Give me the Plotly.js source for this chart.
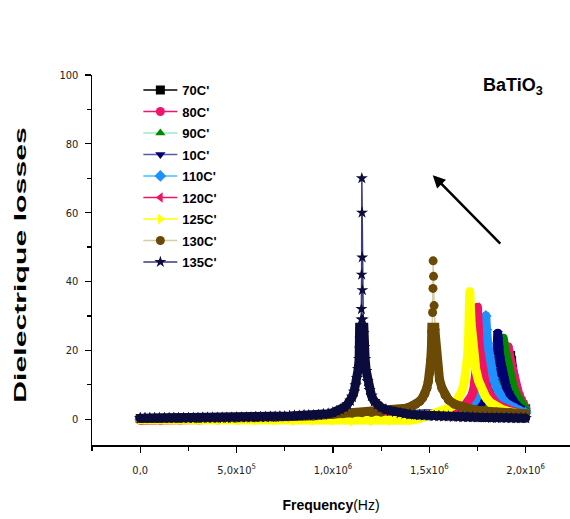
<!DOCTYPE html>
<html>
<head>
<meta charset="utf-8">
<script src="https://cdn.plot.ly/plotly-3.0.1.min.js"></script>
<style>
html,body{margin:0;padding:0;background:#fff;}
#chart{width:570px;height:519px;}
.scatterlayer .js-line{stroke-linejoin:round;stroke-linecap:round;}
</style>
</head>
<body>
<div id="chart"></div>
<script>
// Frequencies in MHz (tick labels show Hz)
const seriesNames = ["70C'", "80C'", "90C'", "10C'", "110C'", "120C'", "125C'", "130C'", "135C'"];

const freq70 = [0,0.1,0.2,0.3,0.4,0.5,0.6,0.7,0.8,0.9,1.0,1.1,1.2,1.3,1.4,1.5,1.6,1.65,1.7,1.75,1.8,1.84,1.87,1.89,1.9,1.91,1.917,1.922,1.927,1.932,1.938,1.945,1.955,1.965,1.975,1.985,2.0];
const loss70 = [0.2,0.2,0.3,0.3,0.3,0.4,0.4,0.5,0.5,0.6,0.7,0.8,0.9,1.0,1.2,1.4,1.8,2.1,2.6,3.2,4.2,5.4,7.0,8.8,10.5,13,16,18.5,17,14.5,12,10,8,6.5,5.2,4.2,3.0];

const freq80 = [0,0.1,0.2,0.3,0.4,0.5,0.6,0.7,0.8,0.9,1.0,1.1,1.2,1.3,1.4,1.5,1.6,1.65,1.7,1.75,1.8,1.83,1.855,1.872,1.884,1.893,1.899,1.903,1.906,1.909,1.913,1.918,1.925,1.933,1.942,1.952,1.963,1.975,1.988,2.0];
const loss80 = [0.1,0.1,0.1,0.2,0.2,0.2,0.3,0.3,0.4,0.4,0.5,0.6,0.7,0.8,1.0,1.2,1.5,1.8,2.2,2.8,3.6,4.5,5.6,7,8.8,11,13.5,16.5,19,21,19.8,18,16,13.5,11.2,9.2,7.4,5.8,4.4,3.2];

const freq90 = [0,0.1,0.2,0.3,0.4,0.5,0.6,0.7,0.8,0.9,1.0,1.1,1.2,1.3,1.4,1.5,1.6,1.65,1.7,1.74,1.78,1.81,1.83,1.848,1.86,1.868,1.874,1.878,1.881,1.884,1.888,1.894,1.902,1.912,1.923,1.936,1.95,1.965,1.982,2.0];
const loss90 = [0.1,0.2,0.2,0.3,0.6,0.8,0.5,0.3,0.4,0.5,0.5,0.6,0.7,0.9,1.0,1.3,1.6,2.0,2.5,3.1,4.0,5.0,6.2,7.8,9.8,12.2,15,18,21,23.5,22,20,17.5,14.5,11.8,9.4,7.3,5.5,4.0,2.8];

const freq10 = [0,0.1,0.2,0.3,0.4,0.5,0.6,0.7,0.8,0.9,1.0,1.1,1.2,1.3,1.4,1.5,1.6,1.65,1.7,1.73,1.76,1.79,1.81,1.826,1.837,1.845,1.85,1.853,1.855,1.858,1.862,1.868,1.876,1.886,1.898,1.912,1.928,1.946,1.966,1.985,2.0];
const loss10 = [0,0.1,0.1,0.2,0.2,0.3,0.3,0.3,0.4,0.4,0.5,0.6,0.7,0.9,1.1,1.4,1.8,2.2,2.8,3.4,4.3,5.5,6.8,8.5,10.5,13,16,20,25,23,20.5,17.5,14.5,11.8,9.5,7.5,5.8,4.4,3.3,2.5,2.0];

const freq110 = [0,0.1,0.2,0.3,0.4,0.5,0.6,0.7,0.8,0.9,1.0,1.1,1.2,1.3,1.4,1.5,1.55,1.6,1.64,1.68,1.71,1.735,1.752,1.765,1.774,1.781,1.786,1.79,1.793,1.797,1.803,1.81,1.82,1.832,1.846,1.862,1.88,1.9,1.925,1.95,1.975,2.0];
const loss110 = [0,0,0.1,0.1,0.1,0.2,0.2,0.3,0.3,0.4,0.4,0.5,0.6,0.8,1.0,1.2,1.5,1.9,2.4,3.1,4.0,5.2,6.6,8.4,10.6,13.4,17,22,30,26,22,18.5,15,12,9.5,7.5,5.8,4.6,3.6,2.9,2.3,1.9];

const freq120 = [0,0.1,0.2,0.3,0.4,0.5,0.6,0.7,0.8,0.9,1.0,1.1,1.2,1.3,1.4,1.5,1.55,1.6,1.63,1.66,1.685,1.705,1.72,1.731,1.739,1.744,1.748,1.75,1.753,1.757,1.763,1.77,1.78,1.792,1.806,1.822,1.84,1.86,1.885,1.91,1.94,1.97,2.0];
const loss120 = [-0.3,-0.3,-0.2,-0.2,-0.1,-0.1,0,0,0.1,0.1,0.2,0.3,0.4,0.6,0.8,1.1,1.4,1.9,2.4,3.1,4.0,5.2,6.8,8.8,11.5,15,20,32.5,28,23.5,19.5,16,12.8,10.2,8,6.3,5,4,3.2,2.6,2.1,1.7,1.4];

const freq125 = [0,0.1,0.2,0.3,0.4,0.5,0.6,0.7,0.8,0.9,1.0,1.1,1.2,1.3,1.4,1.45,1.5,1.55,1.58,1.61,1.635,1.655,1.67,1.682,1.692,1.699,1.704,1.708,1.71,1.713,1.717,1.723,1.731,1.741,1.755,1.772,1.792,1.815,1.845,1.88,1.92,1.96,2.0];
const loss125 = [-0.2,-0.2,-0.2,-0.2,-0.2,-0.3,-0.4,-0.4,-0.4,-0.5,-0.5,-0.6,-0.6,-0.5,-0.3,0.2,1.0,1.8,2.5,3.4,4.6,6.2,8.2,10.8,14.2,18.5,24,30,37,33,28,23,18.5,14.5,11.2,8.6,6.5,4.9,3.7,2.8,2.1,1.6,1.2];

const freq130 = [0,0.1,0.2,0.3,0.4,0.5,0.6,0.7,0.8,0.9,1.0,1.05,1.1,1.15,1.2,1.25,1.3,1.35,1.38,1.41,1.43,1.45,1.465,1.477,1.487,1.495,1.502,1.507,1.511,1.514,1.517,1.519,1.52,1.522,1.525,1.529,1.535,1.543,1.553,1.566,1.582,1.6,1.63,1.67,1.72,1.78,1.85,1.92,2.0];
const loss130 = [0.2,0.2,0.3,0.3,0.4,0.4,0.5,0.6,0.8,1.0,1.4,1.6,1.8,1.9,2.0,2.1,2.4,2.8,3.2,3.8,4.4,5.2,6.2,7.4,9,11,13.5,17,21,25.5,31,38,46,41.5,33,26,20,15,11.5,9,7,5.6,4.4,3.5,2.9,2.4,2.0,1.8,1.6];

const freq135 = [0,0.025,0.05,0.075,0.1,0.125,0.15,0.175,0.2,0.225,0.25,0.275,0.3,0.325,0.35,0.375,0.4,0.425,0.45,0.475,0.5,0.525,0.55,0.575,0.6,0.625,0.65,0.675,0.7,0.725,0.75,0.775,0.8,0.825,0.85,0.875,0.9,0.925,0.95,0.975,1.0,
  1.02,1.04,1.06,1.075,1.09,1.1,1.11,1.118,1.125,1.131,1.136,1.14,1.143,1.145,1.147,1.148,1.149,1.15,1.151,1.152,1.153,1.155,1.158,1.162,1.167,1.173,1.18,1.19,1.2,1.215,1.23,1.25,
  1.275,1.3,1.325,1.35,1.375,1.4,1.425,1.45,1.475,1.5,1.525,1.55,1.575,1.6,1.625,1.65,1.675,1.7,1.725,1.75,1.775,1.8,1.825,1.85,1.875,1.9,1.925,1.95,1.975,2.0];
const loss135 = [0.3,0.3,0.3,0.3,0.3,0.3,0.3,0.3,0.3,0.3,0.3,0.3,0.3,0.4,0.4,0.4,0.4,0.4,0.4,0.4,0.5,0.5,0.5,0.5,0.6,0.6,0.6,0.7,0.7,0.8,0.8,0.9,1.0,1.0,1.1,1.1,1.1,1.2,1.4,1.6,1.9,
  2.3,2.8,3.5,4.3,5.4,6.5,8,9.8,12,14.5,17.5,20.5,23.5,26,29,32,42,70,60,47,37.5,29,25,21,17.5,14,11,8.5,6.8,5.2,4.2,3.4,
  2.8,2.4,2.1,1.8,1.6,1.4,1.3,1.2,1.1,1.0,0.9,0.9,0.8,0.8,0.7,0.7,0.6,0.6,0.6,0.5,0.5,0.5,0.4,0.4,0.4,0.4,0.3,0.3,0.3,0.3];

const xTickVals = [0, 0.5, 1.0, 1.5, 2.0];
const xTickText = ["0,0", "5,0x10<sup>5</sup>", "1,0x10<sup>6</sup>", "1,5x10<sup>6</sup>", "2,0x10<sup>6</sup>"];
const yTickVals = [0, 20, 40, 60, 80, 100];

const freqs = [freq70, freq80, freq90, freq10, freq110, freq120, freq125, freq130, freq135];
const losses = [loss70, loss80, loss90, loss10, loss110, loss120, loss125, loss130, loss135];
const markerColors = ['#000000', '#f0146e', '#008a00', '#000070', '#1e90ff', '#f01464', '#ffff00', '#6b4a05', '#0c0c3c'];
const lineColors = ['#000000', '#f0146e', '#9ce8c0', '#5a5aaa', '#40c0ff', '#f01464', '#ffff00', '#d8cca8', '#3a3a80'];
const symbols = ['square', 'circle', 'triangle-up', 'triangle-down', 'diamond', 'triangle-left', 'triangle-right', 'circle', 'star'];
// series whose upper spike is sparse (thin line) while the lower part is dense
const sparseTop = [false, false, false, false, false, false, false, true, true];

const RIB = 9;   // dense-marker ribbon width
const traces = [];
seriesNames.forEach((name, i) => {
  if (sparseTop[i]) return;
  traces.push({
    type: 'scatter', mode: 'lines+markers', showlegend: false,
    x: freqs[i], y: losses[i],
    line: {color: markerColors[i], width: RIB},
    marker: {color: markerColors[i], symbol: symbols[i], size: 9}
  });
});
seriesNames.forEach((name, i) => {
  if (!sparseTop[i]) return;
  traces.push({
    type: 'scatter', mode: 'lines+markers', showlegend: false,
    x: freqs[i], y: losses[i],
    line: {color: lineColors[i], width: 1.5},
    marker: {color: markerColors[i], symbol: symbols[i], size: 9}
  });
});
seriesNames.forEach((name, i) => {
  if (!sparseTop[i]) return;
  traces.push({
    type: 'scatter', mode: 'lines+markers', showlegend: false, yaxis: 'y2',
    x: freqs[i], y: losses[i],
    line: {color: markerColors[i], width: RIB},
    marker: {color: markerColors[i], symbol: symbols[i], size: 9}
  });
});
seriesNames.forEach((name, i) => {
  traces.push({
    type: 'scatter', mode: 'lines+markers', name: name, legendgroup: 'g' + i,
    x: [null], y: [null],
    line: {color: lineColors[i], width: 1.5},
    marker: {color: markerColors[i], symbol: symbols[i], size: 9}
  });
});

const yMin = -7.5, yMax = 100, denseTop = 28;
const tickFont = {family: 'Liberation Sans Narrow, DejaVu Sans Condensed, Liberation Sans, sans-serif', size: 11, color: '#222'};

const layout = {
  width: 570, height: 519,
  margin: {l: 92, r: 0, t: 75, b: 74},
  paper_bgcolor: '#ffffff', plot_bgcolor: 'rgba(0,0,0,0)',
  showlegend: true,
  legend: {
    x: 0.097, y: 1.0, xanchor: 'left', yanchor: 'top',
    bgcolor: 'rgba(0,0,0,0)', traceorder: 'grouped', tracegroupgap: 1.6,
    itemwidth: 34,
    font: {family: 'Liberation Sans Narrow, Liberation Sans, sans-serif', size: 13, color: '#000', weight: 'bold'}
  },
  xaxis: {
    range: [-0.25, 2.23],
    showgrid: false, zeroline: false,
    showline: true, linecolor: '#000', linewidth: 1.5,
    ticks: 'outside', ticklen: 6, tickwidth: 1.2, tickcolor: '#000',
    tickmode: 'array', tickvals: xTickVals, ticktext: xTickText,
    ticklabelstandoff: 8,
    minor: {dtick: 0.25, tick0: 0, ticks: 'outside', ticklen: 4, tickcolor: '#000', showgrid: false},
    tickfont: tickFont,
    title: {text: '<b>Frequency</b>(Hz)', font: {family: 'Liberation Sans, sans-serif', size: 14, color: '#000'}, standoff: 24}
  },
  yaxis: {
    range: [yMin, yMax],
    showgrid: false, zeroline: false,
    showline: true, linecolor: '#000', linewidth: 1.5,
    ticks: 'outside', ticklen: 6, tickwidth: 1.2, tickcolor: '#000',
    tickmode: 'array', tickvals: yTickVals,
    ticklabelstandoff: 4,
    minor: {dtick: 10, tick0: 0, ticks: 'outside', ticklen: 4, tickcolor: '#000', showgrid: false},
    tickfont: tickFont,
    title: {text: '<b>Dielectrique losses</b>', font: {family: 'Liberation Sans, sans-serif', size: 17, color: '#000'}, standoff: 28}
  },
  yaxis2: {
    anchor: 'x',
    domain: [0, (denseTop - yMin) / (yMax - yMin)],
    range: [yMin, denseTop],
    visible: false, showgrid: false, zeroline: false
  },
  annotations: [
    {
      xref: 'paper', yref: 'paper', x: 0.814, y: 0.968, xanchor: 'left', yanchor: 'middle',
      text: '<b>BaTiO<sub>3</sub></b>', showarrow: false,
      font: {family: 'Liberation Sans, sans-serif', size: 18, color: '#000'}
    },
    {
      xref: 'x', yref: 'y', x: 1.518, y: 70.9,
      axref: 'x', ayref: 'y', ax: 1.876, ay: 50.6,
      text: '', showarrow: true, arrowhead: 2, arrowsize: 1, arrowwidth: 2.5, arrowcolor: '#000'
    }
  ]
};

Plotly.newPlot('chart', traces, layout, {displayModeBar: false, staticPlot: true}).then(() => {
  // the reference's y title is drawn elongated along its baseline
  const t = document.querySelector('.ytitle');
  if (t) {
    const x = parseFloat(t.getAttribute('x')), y = parseFloat(t.getAttribute('y'));
    t.setAttribute('transform', `translate(0,5) rotate(-90,${x},${y}) translate(${x},${y}) scale(1.78,1) translate(${-x},${-y})`);
  }
});
</script>
</body>
</html>
